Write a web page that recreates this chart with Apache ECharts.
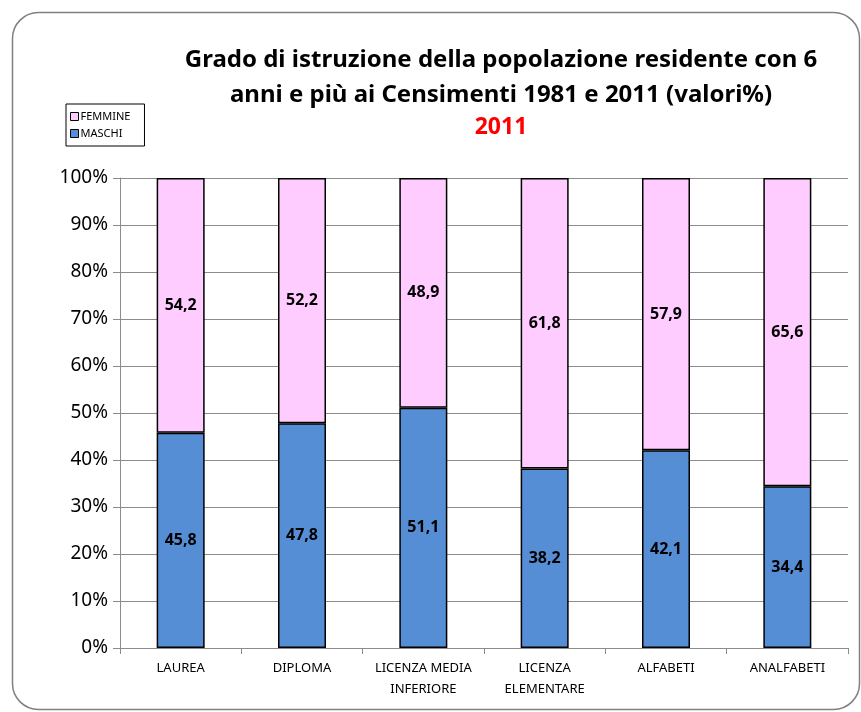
<!DOCTYPE html>
<html>
<head>
<meta charset="utf-8">
<script src="https://cdn.jsdelivr.net/npm/echarts@6/dist/echarts.min.js"></script>
<style>
html, body { margin: 0; padding: 0; background: #fff; }
#main { width: 861px; height: 712px; }
</style>
</head>
<body>
<div id="main"></div>
<script>
var categories = ['LAUREA', 'DIPLOMA', 'LICENZA MEDIA\nINFERIORE', 'LICENZA\nELEMENTARE', 'ALFABETI', 'ANALFABETI'];
var maschi = [45.8, 47.8, 51.1, 38.2, 42.1, 34.4];
var femmine = [54.2, 52.2, 48.9, 61.8, 57.9, 65.6];

var myChart = echarts.init(document.getElementById('main'));
var labelStyle = {
	show: true,
	position: 'inside',
	color: '#000',
	fontWeight: 'bold',
	fontSize: 16,
	fontFamily: 'Noto Sans',
	formatter: function(p) { return p.value.toFixed(1).replace('.', ','); }
};
var option = {
	animation: false,
	backgroundColor: '#fff',
	graphic: [{
		type: 'rect',
		shape: { x: 12.5, y: 12.5, width: 847, height: 697, r: 26 },
		style: { fill: 'none', stroke: '#808080', lineWidth: 1.5 },
		z: -1
	}],
	title: [{
		text: 'Grado di istruzione della popolazione residente con 6\nanni e più ai Censimenti 1981 e 2011 (valori%)',
		left: 496,
		textAlign: 'center',
		top: 38,
		textStyle: { fontFamily: 'Noto Sans', fontWeight: 'bold', fontSize: 24, lineHeight: 35, color: '#000' }
	}, {
		text: '2011',
		left: 496,
		textAlign: 'center',
		top: 111,
		textStyle: { fontFamily: 'Noto Sans', fontWeight: 'bold', fontSize: 23, color: '#ff0000' }
	}],
	legend: {
		orient: 'vertical',
		left: 66,
		top: 104,
		data: ['FEMMINE', 'MASCHI'],
		icon: 'rect',
		itemWidth: 8,
		itemHeight: 8,
		itemGap: 6,
		padding: [7, 14, 7, 4],
		borderColor: '#000',
		borderWidth: 1,
		textStyle: { fontSize: 11, fontFamily: 'Noto Sans', color: '#000', padding: [0, 0, 0, -3] },
		itemStyle: { borderColor: '#000', borderWidth: 1 }
	},
	grid: { left: 120, right: 13, top: 178, bottom: 64, containLabel: false },
	xAxis: {
		type: 'category',
		data: categories,
		axisLine: { lineStyle: { color: '#8c8c8c', width: 1 } },
		axisTick: { show: true, length: 6, lineStyle: { color: '#8c8c8c' } },
		axisLabel: { fontSize: 13, fontFamily: 'Noto Sans', color: '#000', lineHeight: 21, margin: 10, interval: 0 }
	},
	yAxis: {
		type: 'value',
		min: 0,
		max: 100,
		interval: 10,
		axisLine: { show: true, lineStyle: { color: '#8c8c8c', width: 1 } },
		axisTick: { show: true, length: 7, lineStyle: { color: '#8c8c8c' } },
		axisLabel: { formatter: '{value}%', fontSize: 19, fontFamily: 'Noto Sans', color: '#000', margin: 12 },
		splitLine: { lineStyle: { color: '#8c8c8c', width: 1 } }
	},
	series: [{
		name: 'MASCHI',
		type: 'bar',
		stack: 'tot',
		barWidth: 48,
		data: maschi,
		itemStyle: { color: '#558ed5', borderColor: '#000', borderWidth: 1.5 },
		label: labelStyle
	}, {
		name: 'FEMMINE',
		type: 'bar',
		stack: 'tot',
		barWidth: 48,
		data: femmine,
		itemStyle: { color: '#ffccff', borderColor: '#000', borderWidth: 1.5 },
		label: labelStyle
	}]
};
myChart.setOption(option);
</script>
</body>
</html>
